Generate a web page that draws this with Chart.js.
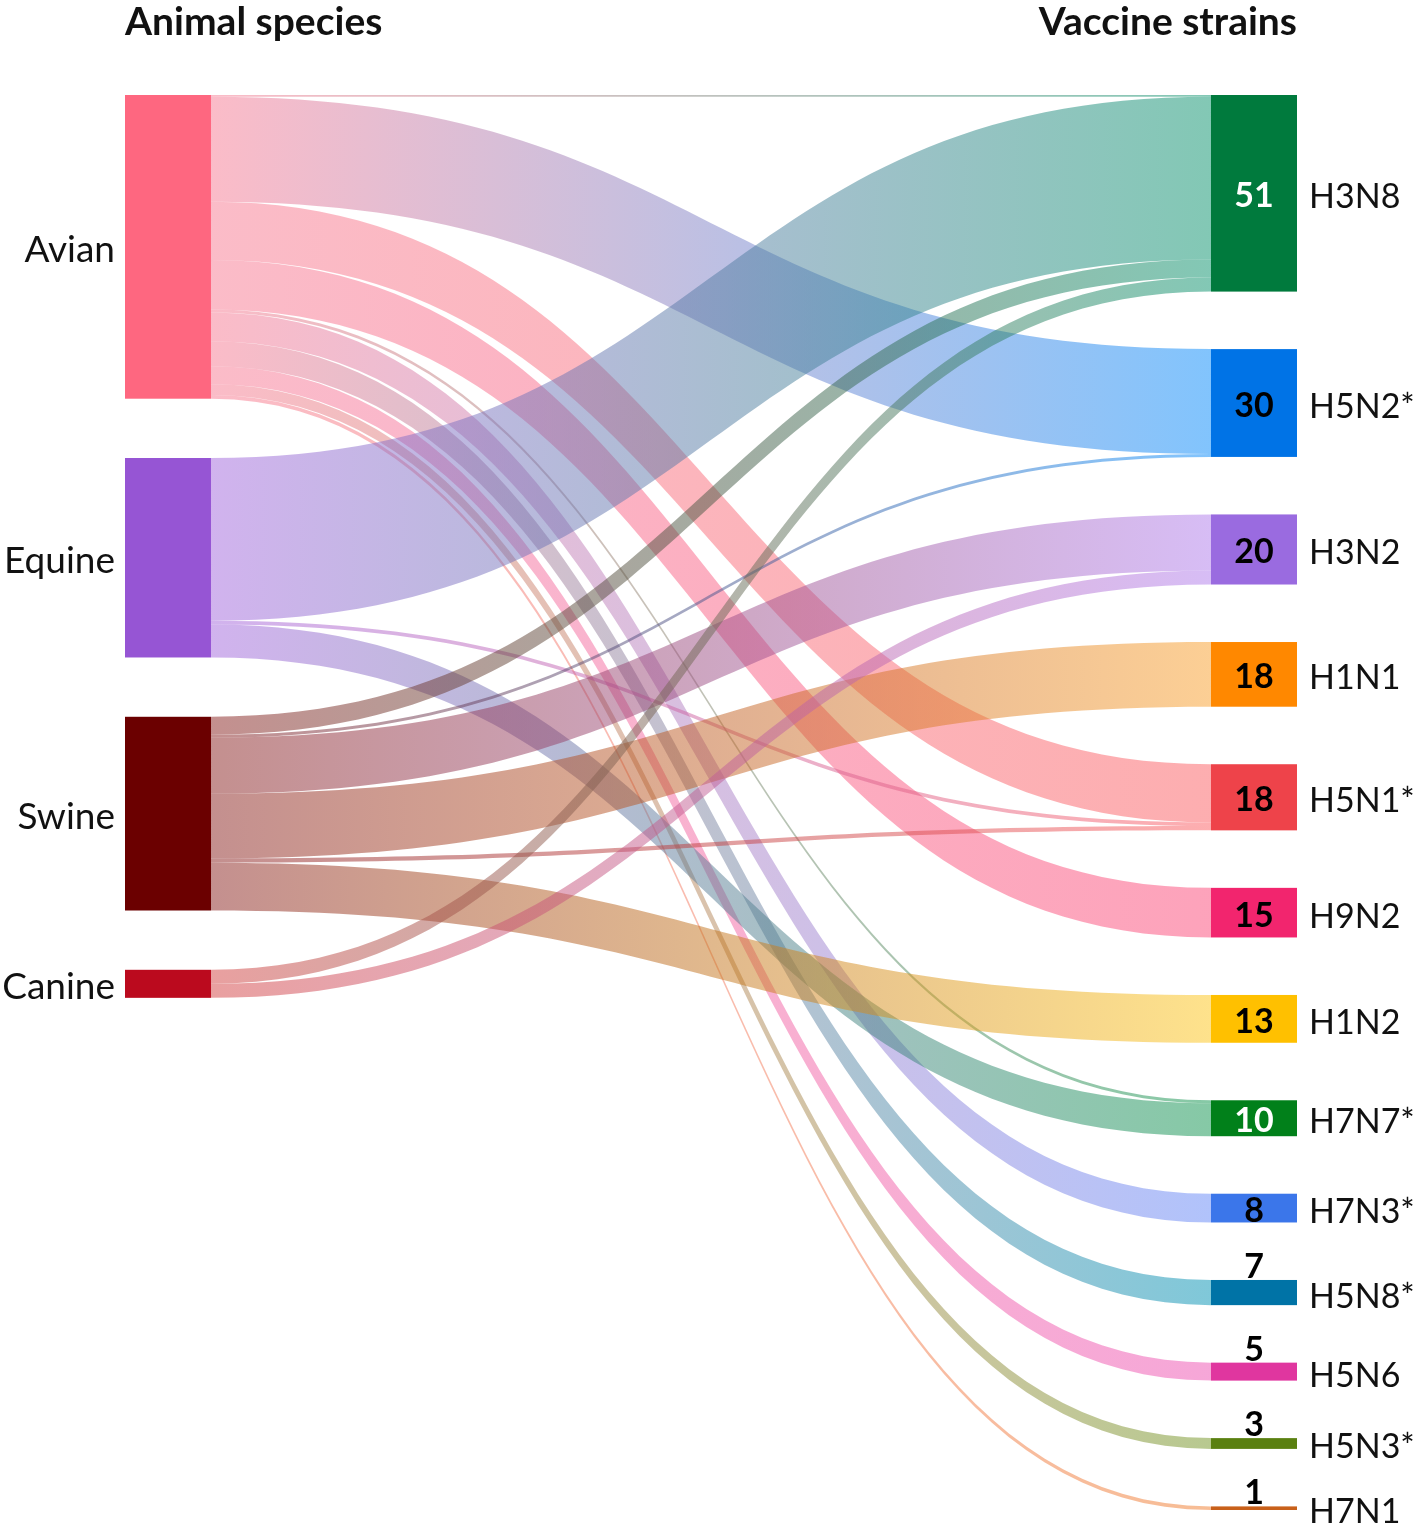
<!DOCTYPE html>
<html>
<head>
<meta charset="utf-8">
<script src="https://cdn.jsdelivr.net/npm/chart.js@4.4.1/dist/chart.umd.min.js"></script>
<style>
  html, body { margin: 0; padding: 0; background: #fff; }
  canvas { display: block; }
</style>
</head>
<body>
<canvas id="sankey" width="1417" height="1525"></canvas>
<script>
// ---- data ----
const species = ['Avian', 'Equine', 'Swine', 'Canine'];
const speciesColors = ['#fe6780', '#9655d4', '#6b0000', '#bb0a1e'];
const speciesFlowColors = ['#f77991', '#a367dd', '#89211f', '#d34141'];

const strains = ['H3N8', 'H5N2*', 'H3N2', 'H1N1', 'H5N1*', 'H9N2', 'H1N2',
                 'H7N7*', 'H7N3*', 'H5N8*', 'H5N6', 'H5N3*', 'H7N1'];
const strainCounts = [51, 30, 20, 18, 18, 15, 13, 10, 8, 7, 5, 3, 1];
const strainColors = ['#007a3d', '#0073e6', '#9a6be0', '#ff8800', '#ee434a', '#f2256e', '#ffc000',
                      '#01801a', '#3b76ea', '#0073a6', '#e0369f', '#5a8010', '#c8601a'];
const strainFlowColors = ['#07916b', '#0589fb', '#af7beb', '#f99f2b', '#fb5d61', '#fb4777', '#fdc519',
                          '#0d934d', '#6387f7', '#0191b3', '#ed4fb1', '#719321', '#ef7b2b'];

const flows = [
  ['Avian', 'H3N8', 0.5],
  ['Avian', 'H5N2*', 29.2],
  ['Avian', 'H5N1*', 16.2],
  ['Avian', 'H9N2', 13.8],
  ['Avian', 'H7N7*', 0.8],
  ['Avian', 'H7N3*', 8],
  ['Avian', 'H5N8*', 7],
  ['Avian', 'H5N6', 5],
  ['Avian', 'H5N3*', 3],
  ['Avian', 'H7N1', 1],
  ['Equine', 'H3N8', 45.3],
  ['Equine', 'H5N1*', 1.0],
  ['Equine', 'H7N7*', 9.2],
  ['Swine', 'H3N8', 5],
  ['Swine', 'H5N2*', 0.8],
  ['Swine', 'H3N2', 15.6],
  ['Swine', 'H1N1', 18],
  ['Swine', 'H5N1*', 1.2],
  ['Swine', 'H1N2', 13.3],
  ['Canine', 'H3N8', 3.9],
  ['Canine', 'H3N2', 3.9]
];

// ---- layout in value units ----
const rightGap = 16;
const leftGap = 16.5;
const nodeW = 7.34;           // node width in x units (0..100)

const leftTotals = species.map(s => flows.filter(f => f[0] === s).reduce((a, f) => a + f[2], 0));
const rightTotals = strains.map(s => flows.filter(f => f[1] === s).reduce((a, f) => a + f[2], 0));

const leftStart = [];
let acc = 0;
leftTotals.forEach(v => { leftStart.push(acc); acc += v + leftGap; });
const rightStart = [];
acc = 0;
rightTotals.forEach(v => { rightStart.push(acc); acc += v + rightGap; });
const yMax = acc - rightGap;

function hexA(hex, a) {
  const n = parseInt(hex.slice(1), 16);
  return 'rgba(' + (n >> 16 & 255) + ',' + (n >> 8 & 255) + ',' + (n & 255) + ',' + a + ')';
}

const sankeyPlugin = {
  id: 'sankey',
  afterDraw(chart) {
    const ctx = chart.ctx;
    const x = chart.scales.x, y = chart.scales.y;
    const x0 = x.getPixelForValue(nodeW);
    const x1 = x.getPixelForValue(100 - nodeW);
    const xm = (x0 + x1) / 2;

    // links
    const srcOff = species.map(() => 0);
    const tgtOff = strains.map(() => 0);
    ctx.save();
    flows.forEach(f => {
      const si = species.indexOf(f[0]);
      const ti = strains.indexOf(f[1]);
      const sy0 = y.getPixelForValue(leftStart[si] + srcOff[si]);
      const sy1 = y.getPixelForValue(leftStart[si] + srcOff[si] + f[2]);
      const ty0 = y.getPixelForValue(rightStart[ti] + tgtOff[ti]);
      const ty1 = y.getPixelForValue(rightStart[ti] + tgtOff[ti] + f[2]);
      srcOff[si] += f[2];
      tgtOff[ti] += f[2];
      const g = ctx.createLinearGradient(x0, 0, x1, 0);
      g.addColorStop(0, hexA(speciesFlowColors[si], 0.5));
      g.addColorStop(1, hexA(strainFlowColors[ti], 0.5));
      ctx.fillStyle = g;
      ctx.beginPath();
      ctx.moveTo(x0, sy0);
      ctx.bezierCurveTo(xm, sy0, xm, ty0, x1, ty0);
      ctx.lineTo(x1, ty1);
      ctx.bezierCurveTo(xm, ty1, xm, sy1, x0, sy1);
      ctx.closePath();
      ctx.fill();
    });

    // nodes
    const xl = x.getPixelForValue(0);
    const xr = x.getPixelForValue(100);
    species.forEach((s, i) => {
      const t = y.getPixelForValue(leftStart[i]);
      const b = y.getPixelForValue(leftStart[i] + leftTotals[i]);
      ctx.fillStyle = speciesColors[i];
      ctx.fillRect(xl, t, x0 - xl, b - t);
      ctx.fillStyle = '#111';
      ctx.font = '37px Lato';
      ctx.textAlign = 'right';
      ctx.textBaseline = 'middle';
      ctx.fillText(s, xl - 10, (t + b) / 2 + 3);
    });
    strains.forEach((s, i) => {
      const t = y.getPixelForValue(rightStart[i]);
      const b = y.getPixelForValue(rightStart[i] + rightTotals[i]);
      ctx.fillStyle = strainColors[i];
      ctx.fillRect(x1, t, xr - x1, b - t);
      ctx.fillStyle = '#111';
      ctx.font = '34px Lato';
      ctx.textAlign = 'left';
      ctx.textBaseline = 'middle';
      ctx.fillText(s, xr + 12, (t + b) / 2 + 4);
      // count label
      const dark = (s === 'H3N8' || s === 'H7N7*');
      ctx.fillStyle = dark ? '#fff' : '#000';
      ctx.font = 'bold 34px Lato';
      ctx.textAlign = 'center';
      const cx = (x1 + xr) / 2;
      if (b - t >= 27) {
        ctx.textBaseline = 'middle';
        ctx.fillText(String(strainCounts[i]), cx, (t + b) / 2 + 3);
      } else {
        ctx.textBaseline = 'alphabetic';
        ctx.fillText(String(strainCounts[i]), cx, t - 2);
      }
    });

    // column headers
    ctx.fillStyle = '#111';
    ctx.font = 'bold 39px Lato';
    ctx.textBaseline = 'middle';
    ctx.textAlign = 'left';
    ctx.fillText('Animal species', xl, 22);
    ctx.textAlign = 'right';
    ctx.fillText('Vaccine strains', xr, 22);
    ctx.restore();
  }
};

new Chart('sankey', {
  type: 'scatter',
  data: { datasets: [{ data: [] }] },
  options: {
    responsive: false,
    animation: false,
    devicePixelRatio: 1,
    layout: { padding: { left: 125, right: 120, top: 95, bottom: 15 } },
    plugins: { legend: { display: false }, tooltip: { enabled: false } },
    scales: {
      x: { type: 'linear', min: 0, max: 100, display: false },
      y: { type: 'linear', min: 0, max: yMax, reverse: true, display: false }
    }
  },
  plugins: [sankeyPlugin]
});
</script>
</body>
</html>
